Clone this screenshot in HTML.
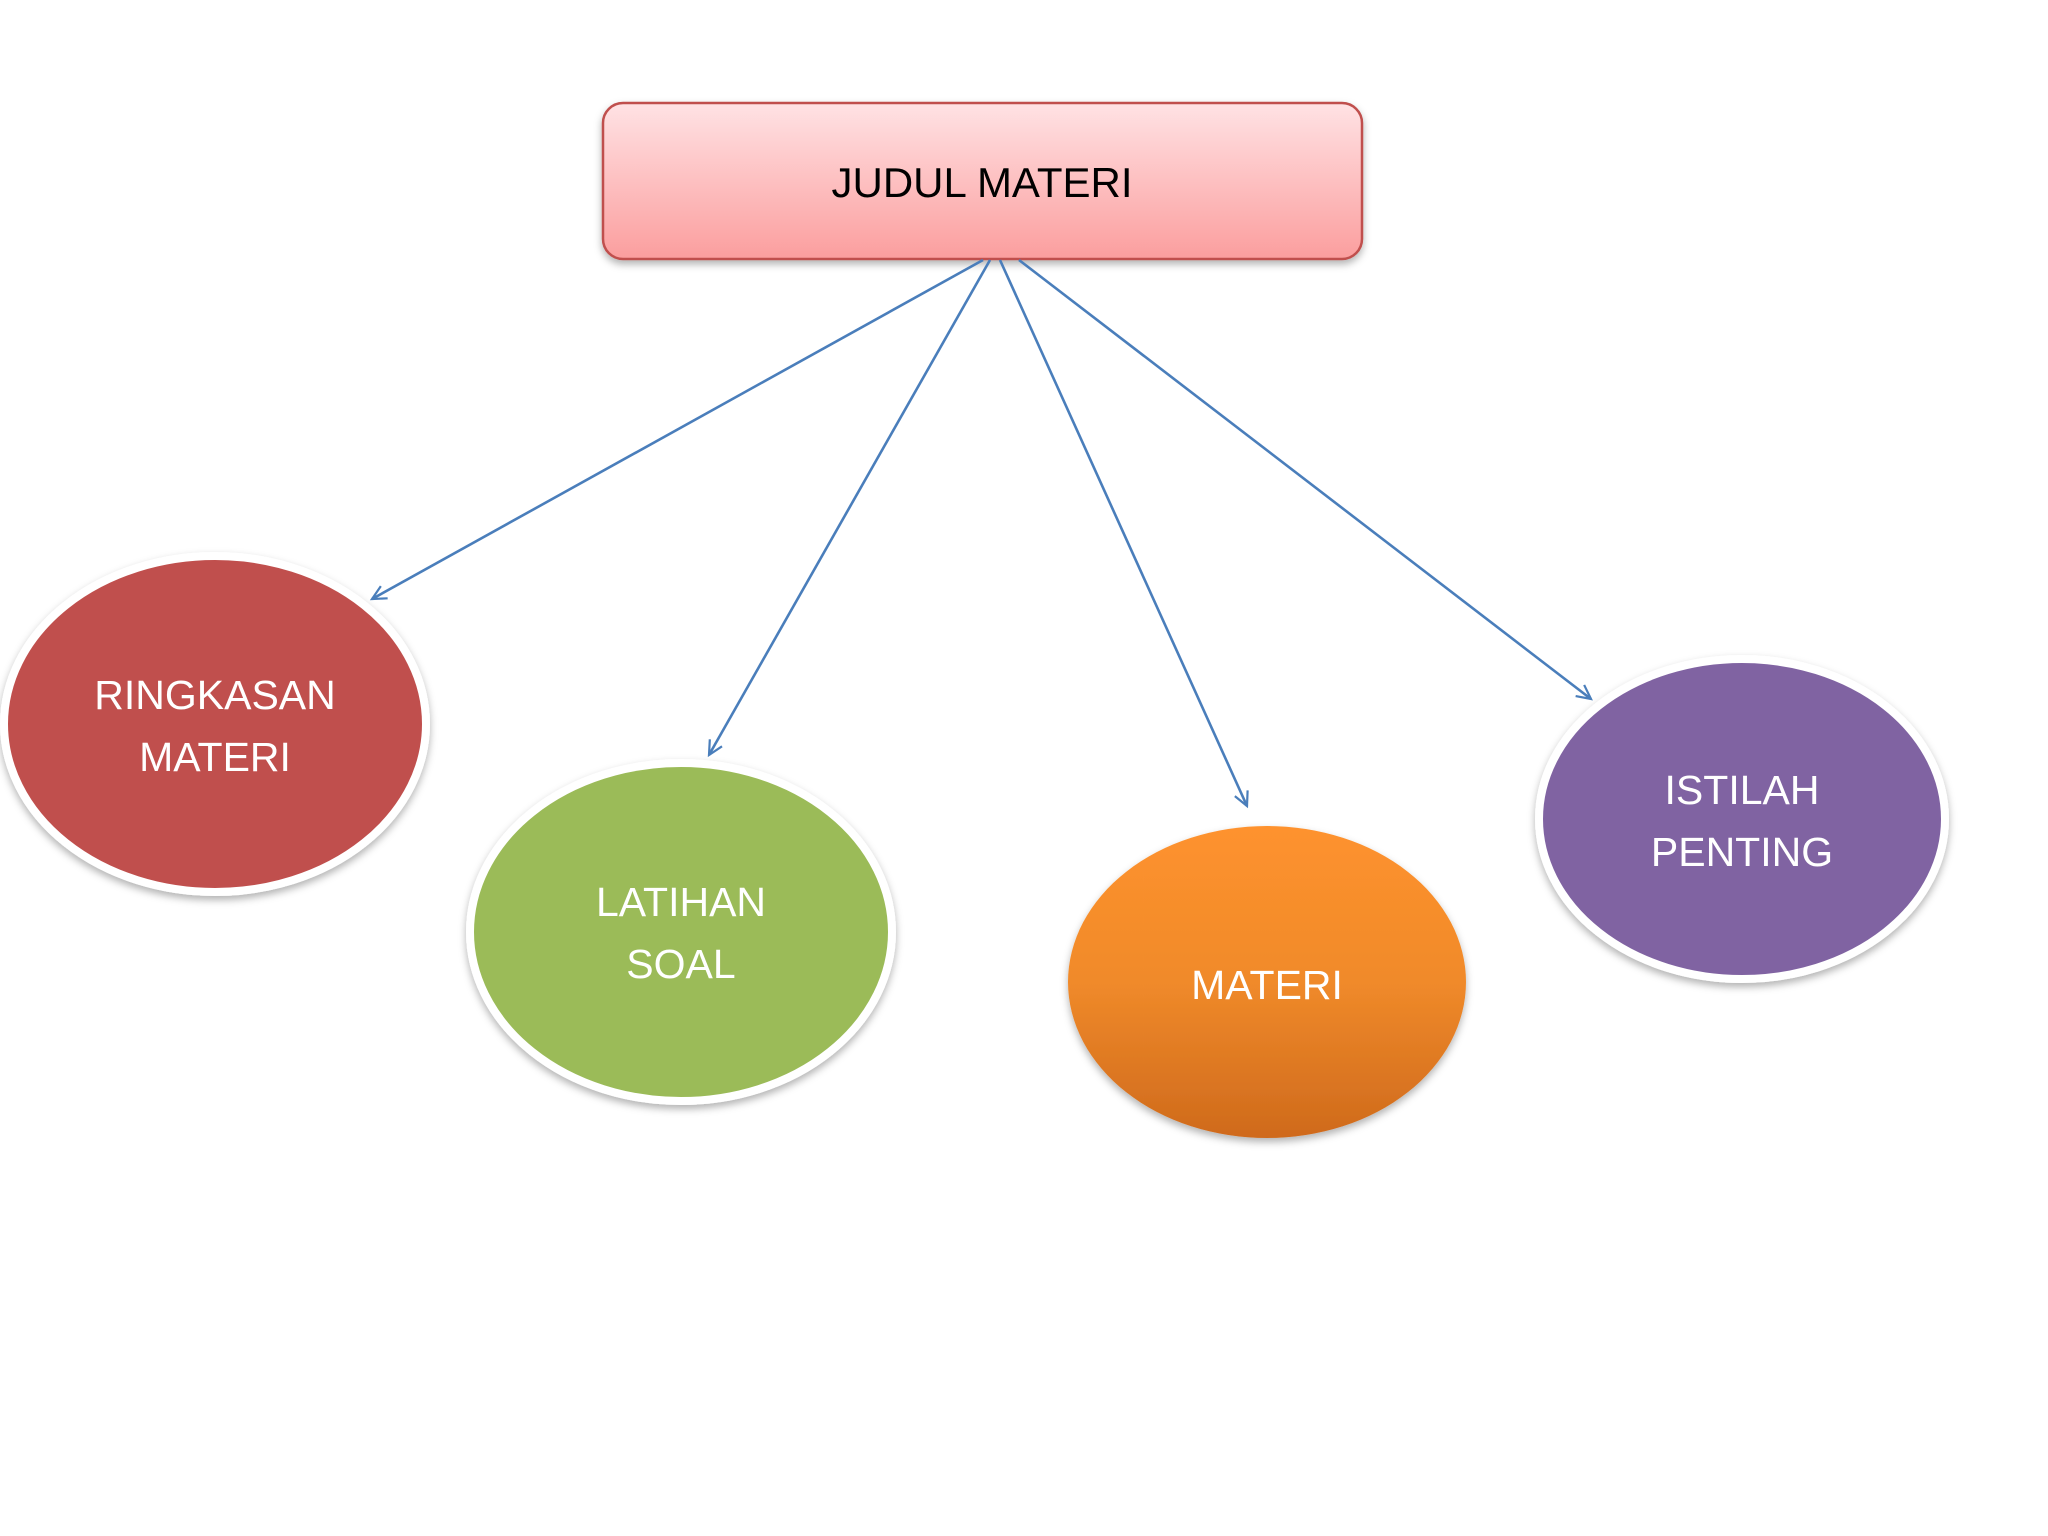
<!DOCTYPE html>
<html><head><meta charset="utf-8"><style>
html,body{margin:0;padding:0;background:#fff;}
svg{display:block}
text{font-family:"Liberation Sans",sans-serif;}
</style></head><body>
<svg width="2048" height="1536" viewBox="0 0 2048 1536" xmlns="http://www.w3.org/2000/svg">
<defs>
<linearGradient id="gb" x1="0" y1="0" x2="0" y2="1"><stop offset="0" stop-color="#ffe2e4"/><stop offset="1" stop-color="#fb9e9e"/></linearGradient>
<linearGradient id="go" x1="0" y1="0" x2="0" y2="1"><stop offset="0" stop-color="#fe922e"/><stop offset="0.5" stop-color="#f08a2a"/><stop offset="1" stop-color="#cf6a1c"/></linearGradient>
<filter id="sh" x="-20%" y="-20%" width="140%" height="140%"><feDropShadow dx="0" dy="4" stdDeviation="4" flood-color="#000" flood-opacity="0.3"/></filter>
<marker id="ar" markerWidth="20" markerHeight="20" refX="16" refY="8" orient="auto" markerUnits="userSpaceOnUse"><path d="M2,1 L16,8 L2,15" fill="none" stroke="#4a7ebb" stroke-width="2.2"/></marker>
</defs>
<rect x="603" y="103" width="759" height="156" rx="20" fill="url(#gb)" stroke="#c0504d" stroke-width="2.5" filter="url(#sh)"/>
<text x="982" y="197" font-size="42" text-anchor="middle" fill="#000">JUDUL MATERI</text>
<g stroke="#4a7ebb" stroke-width="2.6" fill="none">
<line x1="983" y1="260" x2="372" y2="599" marker-end="url(#ar)"/>
<line x1="990" y1="260" x2="709" y2="755" marker-end="url(#ar)"/>
<line x1="1000" y1="260" x2="1247" y2="806" marker-end="url(#ar)"/>
<line x1="1019" y1="260" x2="1591" y2="699" marker-end="url(#ar)"/>
</g>
<ellipse cx="215" cy="724" rx="211" ry="168" fill="#c0504d" stroke="#fff" stroke-width="8" filter="url(#sh)"/>
<ellipse cx="681" cy="932" rx="211" ry="169" fill="#9bbb59" stroke="#fff" stroke-width="8" filter="url(#sh)"/>
<ellipse cx="1267" cy="982" rx="199" ry="156" fill="url(#go)" filter="url(#sh)"/>
<ellipse cx="1742" cy="819" rx="203" ry="160" fill="#8064a2" stroke="#fff" stroke-width="8" filter="url(#sh)"/>
<g fill="#fff" font-size="41" text-anchor="middle">
<text x="215" y="709">RINGKASAN</text>
<text x="215" y="771">MATERI</text>
<text x="681" y="916">LATIHAN</text>
<text x="681" y="978">SOAL</text>
<text x="1267" y="999">MATERI</text>
<text x="1742" y="804">ISTILAH</text>
<text x="1742" y="866">PENTING</text>
</g>
</svg>
</body></html>
